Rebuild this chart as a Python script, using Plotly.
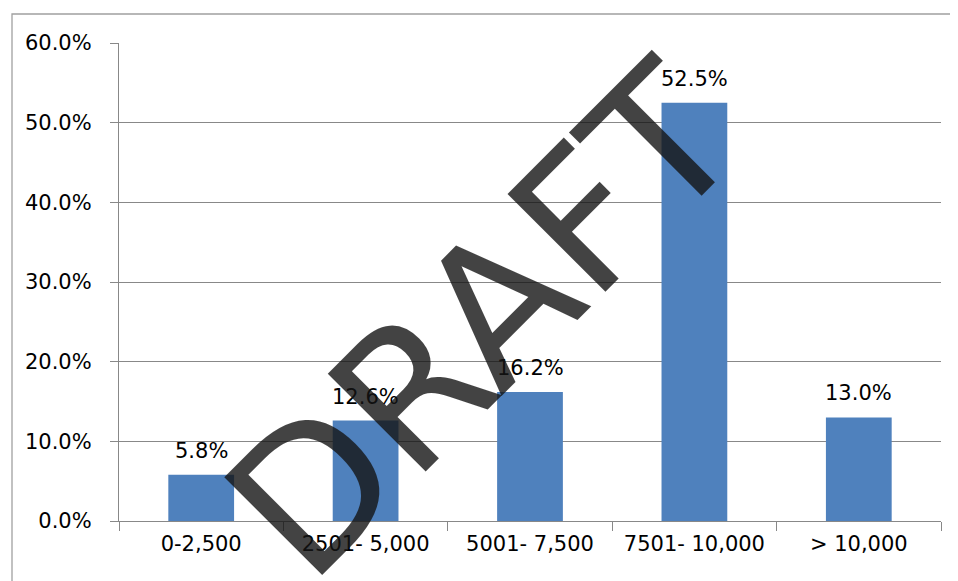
import plotly.graph_objects as go

categories = ["0-2,500", "2501- 5,000", "5001- 7,500", "7501- 10,000", "> 10,000"]
values = [0.058, 0.126, 0.162, 0.525, 0.130]
value_labels = ["5.8%", "12.6%", "16.2%", "52.5%", "13.0%"]
y_ticks = [0.0, 0.1, 0.2, 0.3, 0.4, 0.5, 0.6]
watermark = "DRAFT"

# page body has an 8px margin; figure coordinates are page minus 8
OFF = 8
W, H = 958, 581
L, R, T, B = 119 - OFF, W - (941 - OFF), 43 - OFF, H - (521 - OFF)
pw, ph = W - L - R, H - T - B

def px(xp):
    return (xp - OFF - L) / pw

def py(yp):
    return 1 - (yp - OFF - T) / ph

FONT = "DejaVu Sans"
fig = go.Figure()
fig.add_trace(go.Bar(
    x=categories, y=values,
    marker=dict(color="#4F81BD", line=dict(width=0)),
    width=0.4, hoverinfo="skip",
))

for c, v, t in zip(categories, values, value_labels):
    fig.add_annotation(x=c, y=v, text=t, showarrow=False, xref="x", yref="y",
                       yanchor="bottom", yshift=10,
                       font=dict(family=FONT, size=21, color="#000000"))

fig.add_annotation(x=px(483), y=py(321), xref="paper", yref="paper",
                   text=watermark, showarrow=False, textangle=-45,
                   font=dict(family=FONT, size=190, color="rgba(20,20,20,0.8)"))

# outer chart border
fig.add_shape(type="rect", xref="paper", yref="paper",
              x0=px(12), x1=px(W + 20),
              y0=py(H + 20), y1=py(14),
              line=dict(color="#A0A0A0", width=1.3), layer="below")

fig.update_layout(
    width=W, height=H,
    margin=dict(l=L, r=R, t=T, b=B, pad=0),
    paper_bgcolor="white", plot_bgcolor="white",
    showlegend=False,
    bargap=0.6,
    xaxis=dict(type="category", tickson="boundaries", ticks="outside", ticklen=9,
               tickcolor="#888888", showline=True, linecolor="#888888", linewidth=1.3,
               showgrid=False, tickfont=dict(family=FONT, size=21, color="#000"),
               ticklabelstandoff=4, range=[-0.5, 4.5]),
    yaxis=dict(range=[0, 0.6], tickvals=y_ticks, tickformat=".1%", ticks="outside",
               ticklen=8, tickcolor="#888888", showline=True, linecolor="#888888",
               linewidth=1.3, showgrid=True, gridcolor="#888888", gridwidth=1.3,
               zeroline=False, tickfont=dict(family=FONT, size=21, color="#000"),
               ticklabelstandoff=14),
)

fig.write_html("out.html")
